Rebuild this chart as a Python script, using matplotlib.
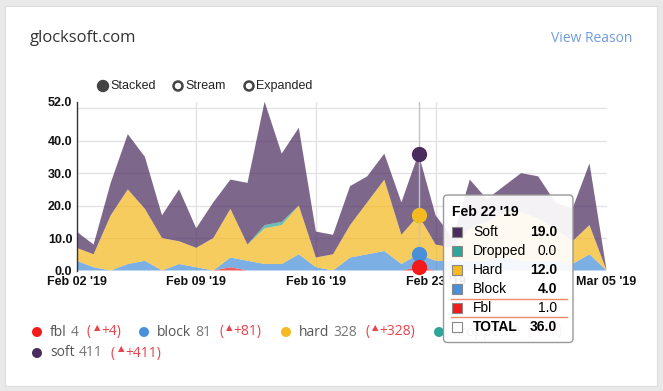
import numpy as np
import pandas as pd
import matplotlib
matplotlib.use('Agg')
import matplotlib.pyplot as plt
from matplotlib.patches import FancyBboxPatch, Rectangle, Circle
from matplotlib.transforms import Affine2D

# daily counts Feb 02 - Mar 05 2019
dates = pd.date_range('2019-02-02', '2019-03-05')
fbl = [0, 0, 0, 0, 0, 0, 0, 0, 0, 1, 0, 0, 0, 0, 0, 0,
       0, 0, 0, 0, 1, 0, 0, 0, 0, 0, 0, 0, 0, 0, 0, 0]
block = [3, 1, 0, 2, 3, 0, 2, 1, 0, 3, 3, 2, 2, 5, 1, 0,
         4, 5, 6, 2, 4, 3, 3, 3, 3, 4, 3, 3, 3, 2, 5, 0]
hard = [4, 4, 17, 23, 16, 10, 7, 6, 10, 15, 5, 11, 12, 15, 3, 5,
        10, 16, 22, 9, 12, 5, 4, 10, 12, 14, 15, 13, 10, 7, 9, 0]
dropped = [0, 0, 0, 0, 0, 0, 0, 0, 0, 0, 0, 1, 1, 0, 0, 0,
           0, 0, 0, 0, 0, 0, 0, 0, 0, 0, 0, 0, 0, 0, 0, 0]
soft = [5, 3, 10, 17, 16, 7, 16, 6, 11, 9, 19, 38, 21, 24, 8, 6,
        12, 8, 8, 10, 19, 9, 3, 15, 7, 8, 12, 13, 8, 10, 19, 0]

tick_days = [0, 7, 14, 21, 31]
y_ticks = [0, 10, 20, 30, 40, 52]

legend_names = ['fbl', 'block', 'hard', 'dropped', 'soft']
legend_totals = [4, 81, 328, 0, 411]
legend_deltas = [4, 81, 328, 0, 411]

hover_day = 20
tip_names = ['Soft', 'Dropped', 'Hard', 'Block', 'Fbl']

c_fbl = '#f21b1b'
c_block = '#4a90d9'
c_hard = '#f5b921'
c_drop = '#2fa59a'
c_soft = '#4b2c5f'

W, H = 663, 391
fig = plt.figure(figsize=(W / 100, H / 100), dpi=100, facecolor='#e9e9e9')
T = Affine2D().scale(1 / W, -1 / H).translate(0, 1) + fig.transFigure

# white card
fig.add_artist(Rectangle((5, 6), 652, 380, transform=T, facecolor='white',
                         edgecolor='#dddddd', lw=0.8, zorder=0))

fig.text(30, 38, 'glocksoft.com', transform=T, fontsize=12, family='Open Sans',
         color='#333333', va='center')
fig.text(632, 38, 'View Reason', transform=T, fontsize=10, family='Open Sans',
         color='#6f9ce0', va='center', ha='right')

# radio buttons
fig.add_artist(Circle((103, 86), 5.5, transform=T, facecolor='#444444', edgecolor='#444444', lw=1))
fig.add_artist(Circle((178, 86), 4.5, transform=T, facecolor='white', edgecolor='#444444', lw=1.8))
fig.add_artist(Circle((249, 86), 4.5, transform=T, facecolor='white', edgecolor='#444444', lw=1.8))
for xx, s in [(110, 'Stacked'), (185, 'Stream'), (256, 'Expanded')]:
    fig.text(xx, 86, s, transform=T, fontsize=9, family='Liberation Sans',
             color='#222222', va='center')

# chart
x = np.arange(len(dates))
ax = fig.add_axes([76.5 / W, 1 - 270.5 / H, (606.6 - 76.5) / W, (270.5 - 101.7) / H])
for v in [10, 20, 30, 40, 50]:
    ax.axhline(v, color='#e3e3e3', lw=1, zorder=0)
for d in tick_days[1:4]:
    ax.axvline(d, color='#e3e3e3', lw=1, zorder=0)
ax.stackplot(x, fbl, block, hard, dropped, soft,
             colors=[c_fbl, c_block, c_hard, c_drop, c_soft], alpha=0.72, lw=0, zorder=2)
ax.axvline(hover_day, color='#c4c4c4', lw=1, zorder=3)

cum = np.cumsum([fbl[hover_day], block[hover_day], hard[hover_day],
                 dropped[hover_day], soft[hover_day]])
for val, c in zip(cum[::-1], [c_soft, c_drop, c_hard, c_block, c_fbl]):
    ax.plot(hover_day, val, 'o', ms=11, color=c, mec='none', zorder=5, clip_on=False)

ax.set_xlim(0, 31)
ax.set_ylim(0, 52)
ax.set_xticks(tick_days)
ax.set_xticklabels([dates[d].strftime("%b %d '%y") for d in tick_days])
ax.set_yticks(y_ticks)
ax.set_yticklabels(['%.1f' % v for v in y_ticks])
ax.tick_params(length=0, labelsize=9, colors='#111111')
ax.tick_params(axis='x', pad=4)
ax.tick_params(axis='y', pad=3)
for lab in ax.get_xticklabels() + ax.get_yticklabels():
    lab.set_fontweight('bold')
    lab.set_family('Liberation Sans')
for sp in ['top', 'right', 'bottom']:
    ax.spines[sp].set_visible(False)
ax.spines['left'].set_color('#333333')
ax.spines['left'].set_linewidth(1)
ax.set_facecolor('none')

# legend below chart
fig.canvas.draw()
r = fig.canvas.get_renderer()


def put(xx, yy, s, **kw):
    t = fig.text(xx, yy, s, transform=T, va='center', zorder=3,
                 family=['Open Sans', 'DejaVu Sans'], **kw)
    bb = t.get_window_extent(r)
    return xx + bb.width


leg_colors = [c_fbl, c_block, c_hard, c_drop, c_soft]
leg_pos = [(37, 332), (144, 332), (286, 332), (439, 332), (37, 353)]
for name, tot, dlt, c, (lx, ly) in zip(legend_names, legend_totals, legend_deltas,
                                       leg_colors, leg_pos):
    fig.add_artist(Circle((lx, ly), 5, transform=T, facecolor=c, edgecolor='none', zorder=3))
    xx = put(lx + 13, ly, name, fontsize=10, color='#555555')
    xx = put(xx + 4, ly, str(tot), fontsize=10, color='#777777')
    xx = put(xx + 8, ly, '(', fontsize=10, color='#e8434a')
    xx = put(xx + 3, ly - 3, '\u25b2', fontsize=6, color='#e8434a')
    put(xx + 1, ly, '+%d)' % dlt, fontsize=10, color='#e8434a')

# tooltip
fig.add_artist(FancyBboxPatch((443.5, 195), 129.5, 147.5, transform=T,
                              boxstyle='round,pad=0,rounding_size=4',
                              facecolor='white', alpha=0.92, edgecolor='none', zorder=10))
fig.add_artist(FancyBboxPatch((443.5, 195), 129.5, 147.5, transform=T,
                              boxstyle='round,pad=0,rounding_size=4',
                              facecolor='none', edgecolor='#999999', lw=1, zorder=11))
fig.text(452, 212, dates[hover_day].strftime("%b %d '%y"), transform=T, fontsize=10,
         fontweight='bold', family='Liberation Sans', va='center', zorder=12)
tip_vals = [soft[hover_day], dropped[hover_day], hard[hover_day], block[hover_day], fbl[hover_day]]
tip_cols = [c_soft, c_drop, c_hard, c_block, c_fbl]
rows_y = [232, 251, 270, 289, 308]
for nm, v, c, ry in zip(tip_names, tip_vals, tip_cols, rows_y):
    fig.add_artist(Rectangle((452, ry - 5), 10, 10, transform=T, facecolor=c,
                             edgecolor='#888888', lw=0.8, zorder=12))
    fig.text(473, ry, nm, transform=T, fontsize=10, family='Liberation Sans',
             va='center', zorder=12)
    fig.text(557, ry, '%.1f' % v, transform=T, fontsize=10, family='Liberation Sans',
             fontweight='bold' if v > 1 else 'normal', va='center', ha='right', zorder=12)
fig.add_artist(Rectangle((452, 322), 10, 10, transform=T, facecolor='white',
                         edgecolor='#888888', lw=0.8, zorder=12))
fig.text(473, 327, 'TOTAL', transform=T, fontsize=10, family='Liberation Sans',
         fontweight='bold', va='center', zorder=12)
fig.text(557, 327, '%.1f' % sum(tip_vals), transform=T, fontsize=10, family='Liberation Sans',
         fontweight='bold', va='center', ha='right', zorder=12)
for ly in [298.5, 316.7]:
    fig.add_artist(plt.Line2D([451, 567], [ly, ly], transform=T, color='#f08a6a',
                              lw=1, zorder=12))

fig.savefig('out.png', dpi=100, facecolor=fig.get_facecolor())
